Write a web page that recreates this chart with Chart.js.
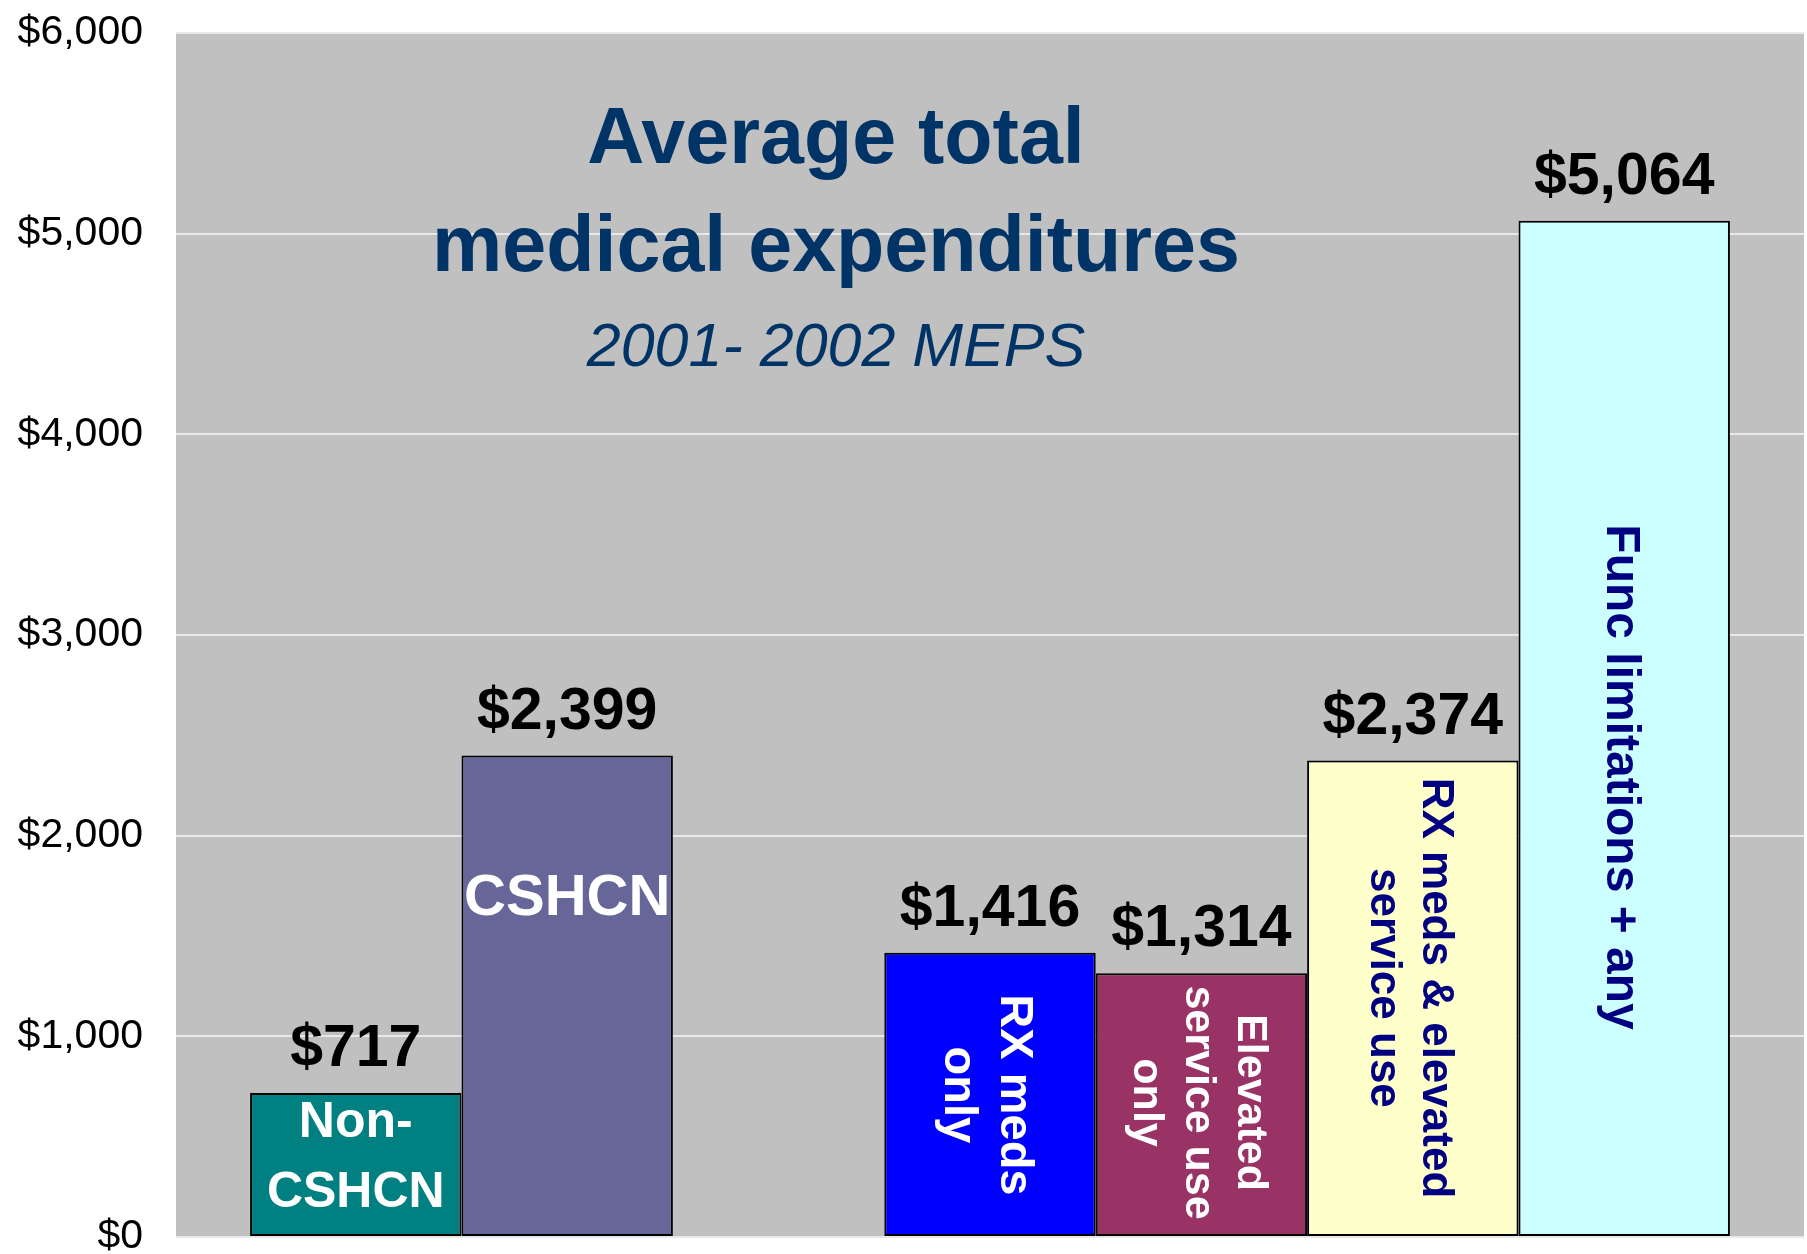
<!DOCTYPE html>
<html>
<head>
<meta charset="utf-8">
<script src="https://cdn.jsdelivr.net/npm/chart.js@4/dist/chart.umd.min.js"></script>
<style>
  html, body { margin: 0; padding: 0; background: #fff; }
  #wrap { width: 1807px; height: 1254px; position: relative; }
</style>
</head>
<body>
<div id="wrap"><canvas id="barChart"></canvas></div>
<script>
var groupNames = ['Non-CSHCN', 'CSHCN', '', 'RX meds only', 'Elevated service use only', 'RX meds & elevated service use', 'Func limitations + any'];
var barLabelLines = [['Non-', 'CSHCN'], ['CSHCN'], [], ['RX meds', 'only'], ['Elevated', 'service use', 'only'], ['RX meds & elevated', 'service use'], ['Func limitations + any']];
var spending = [717, 2399, null, 1416, 1314, 2374, 5064];
var yTicks = [0, 1000, 2000, 3000, 4000, 5000, 6000];
var chartTitle = ['Average total', 'medical expenditures'];
var chartSubtitle = '2001- 2002 MEPS';

var barColors = ['#008080', '#666699', 'rgba(0,0,0,0)', '#0000ff', '#993366', '#ffffcc', '#ccffff'];
// text inside the bars: centre given in dollars on the y axis
var innerLabelStyle = [
  {at: 414, size: 50, color: '#ffffff', rotate: false},
  {at: 1709, size: 58, color: '#ffffff', rotate: false},
  null,
  {at: 708, size: 47, color: '#ffffff', rotate: true},
  {at: 670, size: 43, color: '#ffffff', rotate: true},
  {at: 1241, size: 44, color: '#000080', rotate: true},
  {at: 2292, size: 48, color: '#000080', rotate: true}
];

var FONT = '"Liberation Sans", Arial, sans-serif';

var plotBg = {
  id: 'plotBg',
  beforeDraw: function(chart) {
    var a = chart.chartArea, c = chart.ctx;
    c.save();
    c.fillStyle = '#c0c0c0';
    c.fillRect(a.left, a.top, a.right - a.left, a.bottom - a.top);
    c.restore();
  }
};

var titleInPlot = {
  id: 'titleInPlot',
  beforeDatasetsDraw: function(chart) {
    var a = chart.chartArea, c = chart.ctx;
    var cx = a.left + (a.right - a.left) * 0.4054;
    c.save();
    c.fillStyle = '#003366';
    c.textAlign = 'center';
    c.textBaseline = 'alphabetic';
    c.font = 'bold 79px ' + FONT;
    c.fillText(chartTitle[0], cx, a.top + 130);
    c.fillText(chartTitle[1], cx, a.top + 238);
    c.font = 'italic 61px ' + FONT;
    c.fillText(chartSubtitle, cx, a.top + 333);
    c.restore();
  }
};

var barText = {
  id: 'barText',
  afterDatasetsDraw: function(chart) {
    var c = chart.ctx, y = chart.scales.y;
    c.save();
    chart.data.datasets.forEach(function(ds, i) {
      var v = ds.data[0];
      if (v === null) return;
      var bar = chart.getDatasetMeta(i).data[0];
      // value above the bar
      c.fillStyle = '#000';
      c.textAlign = 'center';
      c.textBaseline = 'alphabetic';
      c.font = 'bold 59px ' + FONT;
      c.fillText('$' + v.toLocaleString('en-US'), bar.x, bar.y - 27);

      // name inside the bar
      var st = innerLabelStyle[i], lines = barLabelLines[i];
      if (!st || !lines.length) return;
      var cy = y.getPixelForValue(st.at);
      var capH = st.size * 0.716;
      var lh = st.rotate ? st.size * 1.2 : st.size * 1.41;
      c.fillStyle = st.color;
      c.font = 'bold ' + st.size + 'px ' + FONT;
      c.translate(bar.x, cy);
      if (st.rotate) c.rotate(Math.PI / 2);
      lines.forEach(function(t, k) {
        var off = (k - (lines.length - 1) / 2) * lh;
        c.fillText(t, 0, off + capH / 2);
      });
      c.setTransform(1, 0, 0, 1, 0, 0);
    });
    c.restore();
  }
};

var ctx = document.getElementById('barChart');

var myChart = new Chart(ctx, {
  type: 'bar',
  data: {
    labels: [''],
    datasets: groupNames.map(function(name, i) {
      return {
        label: name,
        data: [spending[i]],
        backgroundColor: barColors[i],
        borderColor: '#000000',
        borderWidth: spending[i] === null ? 0 : 2,
        borderSkipped: false,
        categoryPercentage: 0.909,
        barPercentage: 1
      };
    })
  },
  options: {
    responsive: true,
    maintainAspectRatio: false,
    animation: false,
    layout: { padding: { top: 33, right: 3, bottom: 17, left: 0 } },
    plugins: {
      legend: { display: false },
      tooltip: { enabled: false }
    },
    scales: {
      x: { display: false },
      y: {
        min: 0,
        max: 6000,
        afterBuildTicks: function(scale) {
          scale.ticks = yTicks.map(function(v) { return {value: v}; });
        },
        afterFit: function(scale) {
          scale.width = 176;
          scale.paddingTop = 0;
          scale.paddingBottom = 0;
        },
        grid: { color: '#e8e8e8', lineWidth: 2, drawTicks: false },
        border: { display: false },
        ticks: {
          padding: 33,
          color: '#000000',
          font: { family: FONT, size: 41 },
          callback: function(v) { return '$' + v.toLocaleString('en-US'); }
        }
      }
    }
  },
  plugins: [plotBg, titleInPlot, barText]
});
</script>
</body>
</html>
